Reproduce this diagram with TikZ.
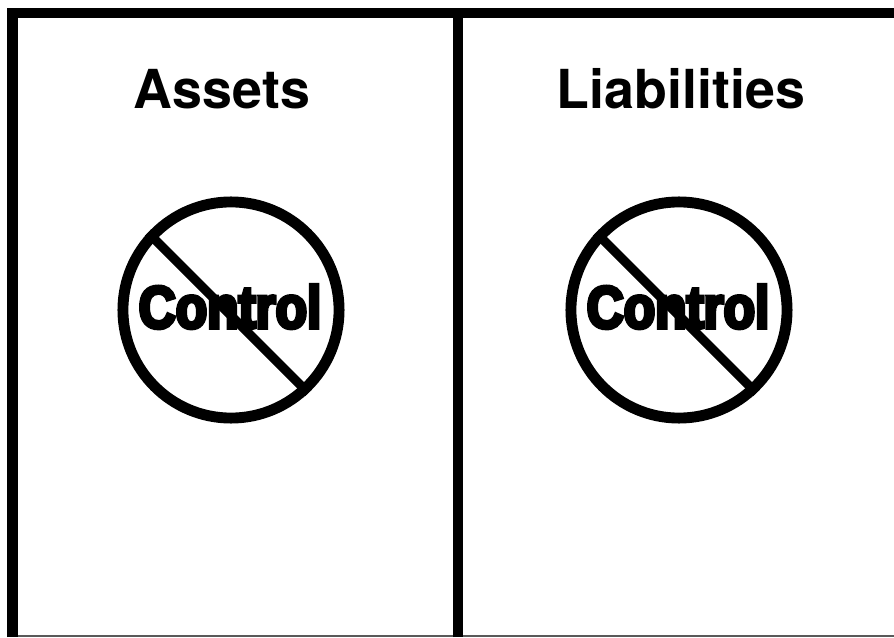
\documentclass[tikz,border=0pt]{standalone}
\usepackage{fontspec}
\newfontfamily\headfont{TeX Gyre Heros}
\newfontfamily\signfont[FakeStretch=0.86,FakeBold=6]{Liberation Sans Bold}
\tikzset{
  frameline/.style={line width=6pt},
  head/.style={font=\headfont\bfseries\fontsize{30.6}{32}\selectfont, inner sep=0pt, anchor=base},
  sign/.style={circle, draw, line width=6.2pt, minimum size=217*0.5669pt, inner sep=0pt},
  word/.style={font=\signfont\fontsize{34}{36}\selectfont, inner sep=0pt, anchor=base}
}
\begin{document}
\begin{tikzpicture}[x=0.02cm,y=0.02cm]
  % Page
  \useasboundingbox (0,0) rectangle (894,637);
  \fill[white] (0,0) rectangle (894,637);

  % Frame
  \draw[black!65, line width=1pt] (18,0.8) -- (894,0.8);
  \draw[frameline] (12.5,0) -- (12.5,624) -- (894,624);
  \draw[frameline] (458,0) -- (458,624);

  % Columns
  \foreach \x/\headx/\name/\label in {231/222/a/Assets, 679/681/b/Liabilities} {
    \node[head] (head\name) at (\headx,528.5) {\label};
    \node[sign] (sign\name) at (\x,327) {};
    \draw[line width=5.2pt] (sign\name.137) -- (sign\name.-47);
    \node[word] (word\name) at (\x-1,309) {Control};
  }
\end{tikzpicture}
\end{document}
